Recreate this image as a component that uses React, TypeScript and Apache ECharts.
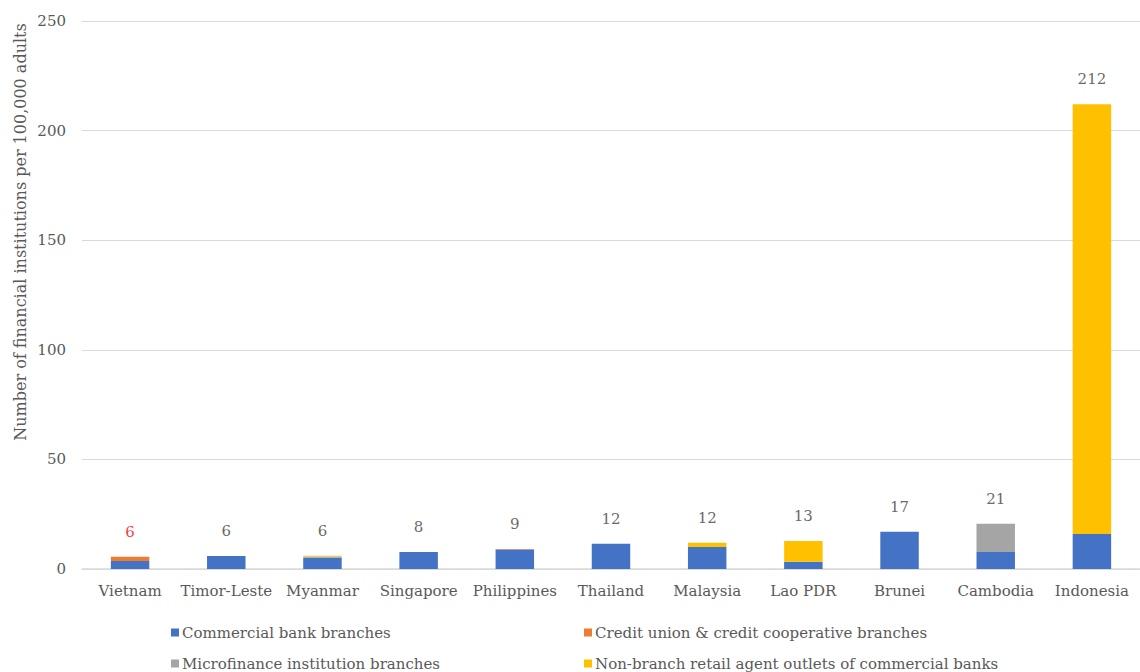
import React, { useEffect, useRef } from "react";
import * as echarts from "echarts";

// Countries, ordered by total density of access points
const countries = [
  "Vietnam",
  "Timor-Leste",
  "Myanmar",
  "Singapore",
  "Philippines",
  "Thailand",
  "Malaysia",
  "Lao PDR",
  "Brunei",
  "Cambodia",
  "Indonesia",
];

// Access points per 100,000 adults, by type of institution
const commercialBranches = [3.7, 5.9, 5.1, 7.8, 8.9, 11.5, 10.0, 3.3, 17.0, 7.8, 16.0];
const creditUnionBranches = [1.9, 0, 0, 0, 0.2, 0, 0, 0, 0, 0, 0];
const microfinanceBranches = [0, 0, 0.6, 0, 0, 0, 0, 0, 0, 12.8, 0];
const agentOutlets = [0, 0, 0.3, 0, 0, 0, 2.0, 9.5, 0, 0, 196.0];

const seriesNames = [
  "Commercial bank branches",
  "Credit union & credit cooperative branches",
  "Microfinance institution branches",
  "Non-branch retail agent outlets of commercial banks",
];
const seriesColors = ["#4472C4", "#ED7D31", "#A5A5A5", "#FFC000"];

const yTicks = [0, 50, 100, 150, 200, 250];

const FONT = "DejaVu Serif";
const FS = 15;

// Legend placement: two columns, two rows
const legendSlots = [
  { left: 166, top: 620 },
  { left: 579, top: 620 },
  { left: 166, top: 651 },
  { left: 579, top: 651 },
];

export default function App() {
  const ref = useRef<HTMLDivElement>(null);

  useEffect(() => {
    if (!ref.current) return;
    const chart = echarts.init(ref.current, undefined, { renderer: "svg" });

    const stacks = [commercialBranches, creditUnionBranches, microfinanceBranches, agentOutlets];
    const totals = countries.map((_, i) => stacks.reduce((s, arr) => s + arr[i], 0));

    const barSeries = stacks.map((data, k) => ({
      name: seriesNames[k],
      type: "bar" as const,
      stack: "total",
      barWidth: "40%",
      data,
      itemStyle: { color: seriesColors[k] },
      emphasis: { disabled: true },
    }));

    const legends = seriesNames.map((name, k) => ({
      left: legendSlots[k].left,
      top: legendSlots[k].top,
      itemWidth: 8,
      itemHeight: 8,
      icon: "rect",
      data: [name],
      selectedMode: false,
      textStyle: { color: "#595959", fontSize: FS, fontFamily: FONT, padding: [0, 0, 0, -2] },
    }));

    chart.setOption({
      animation: false,
      textStyle: { fontFamily: FONT },
      grid: { left: 82, right: -5, top: 21, bottom: 103, containLabel: false },
      xAxis: {
        type: "category",
        data: countries,
        axisTick: { show: false },
        axisLine: { lineStyle: { color: "#D9D9D9", width: 1.5 } },
        axisLabel: { color: "#595959", fontSize: FS, fontFamily: FONT, margin: 14, interval: 0 },
      },
      yAxis: {
        type: "value",
        min: yTicks[0],
        max: yTicks[yTicks.length - 1],
        interval: 50,
        axisLine: { show: false },
        axisTick: { show: false },
        axisLabel: { color: "#595959", fontSize: FS, fontFamily: FONT, margin: 16 },
        splitLine: { lineStyle: { color: "#D9D9D9", width: 1 } },
      },
      legend: legends,
      graphic: [
        {
          type: "text",
          x: 20,
          y: 232,
          rotation: Math.PI / 2,
          style: {
            text: "Number of financial institutions per 100,000 adults",
            fill: "#595959",
            fontSize: 16,
            fontFamily: FONT,
            align: "center",
            verticalAlign: "middle",
          },
        },
      ],
      series: [
        ...barSeries,
        {
          name: "total",
          type: "scatter",
          symbolSize: 1,
          itemStyle: { color: "transparent" },
          silent: true,
          data: totals.map((t, i) => ({
            value: t,
            label: i === 0 ? { color: "#FF0000" } : undefined,
          })),
          label: {
            show: true,
            position: "top",
            distance: 17,
            color: "#404040",
            fontSize: FS,
            fontFamily: FONT,
            formatter: (p: any) => String(Math.round(p.value)),
          },
        },
      ],
    });

    return () => chart.dispose();
  }, []);

  return (
    <div
      ref={ref}
      style={{ position: "fixed", left: 0, top: 0, width: 1140, height: 672, background: "#fff" }}
    />
  );
}
